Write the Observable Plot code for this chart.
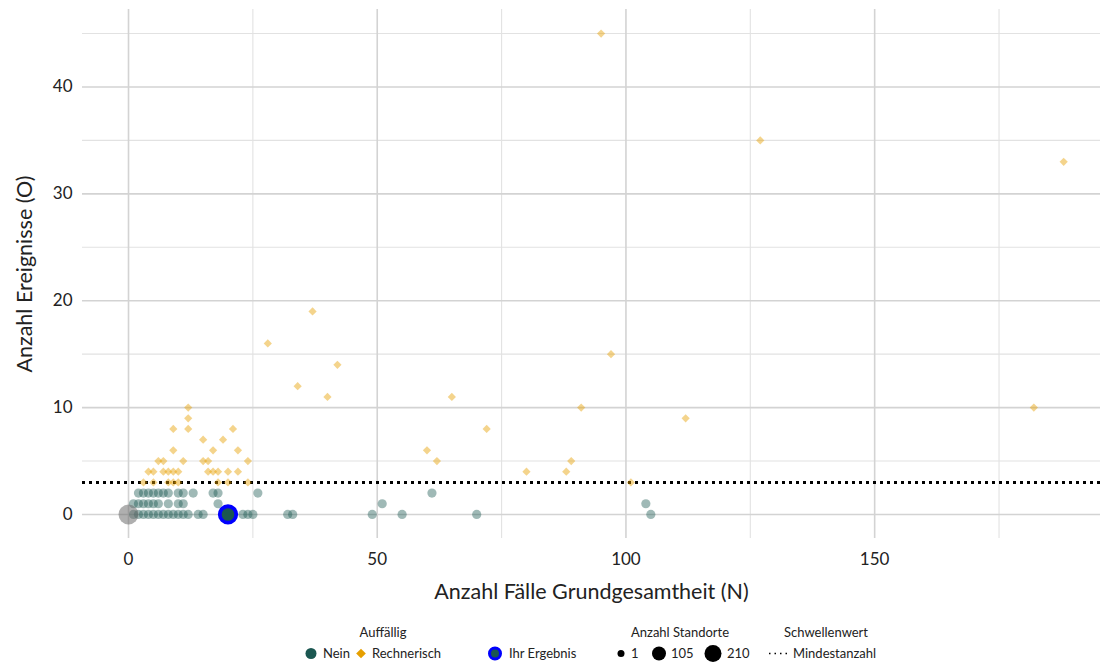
<!DOCTYPE html>
<html>
<head>
<meta charset="utf-8">
<script src="https://cdn.jsdelivr.net/npm/d3@7"></script>
<script src="https://cdn.jsdelivr.net/npm/@observablehq/plot@0.6"></script>
<style>
  html, body { margin: 0; padding: 0; background: #fff; }
  #chart { width: 1104px; }
  #legend { display: block; }
</style>
</head>
<body>
<div id="chart"></div>
<script>
// ---- Data ----
// Auffällig: Nein (N, O)
const neinN = [1,2,3,4,5,6,7,8,9,10,11,12,14,15,23,24,25,32,33,49,55,70,105,
               1,2,3,4,5,6,8,10,11,18,51,104,
               2,3,4,5,6,7,8,10,11,13,17,18,26,61];
const neinO = [0,0,0,0,0,0,0,0,0,0,0,0,0,0,0,0,0,0,0,0,0,0,0,
               1,1,1,1,1,1,1,1,1,1,1,1,
               2,2,2,2,2,2,2,2,2,2,2,2,2,2];
// Auffällig: Rechnerisch (N, O)
const rechN = [3,5,8,9,10,18,20,24,101,
               4,5,7,8,9,10,16,17,18,20,22,80,88,
               6,7,11,15,16,24,62,89,
               9,17,22,60,
               15,19,
               9,12,21,72,
               12,112,
               12,91,182,
               40,65,
               34,42,97,28,37,188,127,95];
const rechO = [3,3,3,3,3,3,3,3,3,
               4,4,4,4,4,4,4,4,4,4,4,4,4,
               5,5,5,5,5,5,5,5,
               6,6,6,6,
               7,7,
               8,8,8,8,
               9,9,
               10,10,10,
               11,11,
               12,14,15,16,19,33,35,45];
// Point without category (grey) and the own result
const greyN = [0], greyO = [0];
const ownN = [20], ownO = [0];
const threshold = [3];

const xMajor = [0, 50, 100, 150];
const xMinor = [25, 75, 125, 175];
const yMajor = [0, 10, 20, 30, 40];
const yMinor = [5, 15, 25, 35, 45];

const xLabel = "Anzahl Fälle Grundgesamtheit (N)";
const yLabel = "Anzahl Ereignisse (O)";

const toRows = (xs, ys) => xs.map((n, i) => ({N: n, O: ys[i]}));
const nein = toRows(neinN, neinO);
const rech = toRows(rechN, rechO);
const grey = toRows(greyN, greyO);
const own = toRows(ownN, ownO);

const TEAL = "#1b5751";
const ORANGE = "#e69f00";

const plot = Plot.plot({
  width: 1104,
  height: 610,
  marginLeft: 82,
  marginRight: 4,
  marginTop: 9,
  marginBottom: 72,
  style: {fontFamily: "Lato, 'Open Sans', sans-serif", background: "#fff", color: "#222"},
  x: {domain: [-9.25, 195.4]},
  y: {domain: [-2.25, 47.25]},
  marks: [
    Plot.ruleX(xMinor, {stroke: "#e2e2e2", strokeWidth: 1.1}),
    Plot.ruleY(yMinor, {stroke: "#e2e2e2", strokeWidth: 1.1}),
    Plot.ruleX(xMajor, {stroke: "#d3d3d3", strokeWidth: 1.6}),
    Plot.ruleY(yMajor, {stroke: "#d3d3d3", strokeWidth: 1.6}),
    Plot.axisX({ticks: xMajor, tickSize: 0, tickPadding: 14, fontSize: 17,
      label: xLabel, labelAnchor: "center", labelArrow: "none", labelOffset: 60}),
    Plot.axisY({ticks: yMajor, tickSize: 0, tickPadding: 10, fontSize: 17,
      label: yLabel, labelAnchor: "center", labelArrow: "none", labelOffset: 66}),
    Plot.ruleY(threshold, {stroke: "#000", strokeWidth: 3, strokeDasharray: "3,4"}),
    Plot.dot(rech, {x: "N", y: "O", symbol: "diamond2", r: 3.7, fill: ORANGE, fillOpacity: 0.45, stroke: "none"}),
    Plot.dot(nein, {x: "N", y: "O", symbol: "circle", r: 4.6, fill: TEAL, fillOpacity: 0.42, stroke: "none"}),
    Plot.dot(grey, {x: "N", y: "O", symbol: "circle", r: 10, fill: "#6e6e6e", fillOpacity: 0.55, stroke: "none"}),
    Plot.dot(own, {x: "N", y: "O", symbol: "circle", r: 8.2, fill: TEAL, stroke: "#0000ff", strokeWidth: 3.8})
  ]
});
document.getElementById("chart").appendChild(plot);

// axis title font sizes
d3.select(plot).selectAll("[aria-label='x-axis label'] text, [aria-label='y-axis label'] text")
  .style("font-size", "21.5px").attr("fill", "#222");

// ---- Legend ----
const legend = d3.select("#chart").append("svg")
  .attr("id", "legend").attr("width", 1104).attr("height", 56)
  .style("font-family", "Lato, 'Open Sans', sans-serif").style("font-size", "13px");

const title = (x, s) => legend.append("text").attr("x", x).attr("y", 27)
  .attr("text-anchor", "middle").attr("fill", "#222").text(s);
const label = (x, s) => legend.append("text").attr("x", x).attr("y", 48)
  .attr("fill", "#222").text(s);
const cy = 43.5;

title(383, "Auffällig");
legend.append("circle").attr("cx", 311).attr("cy", cy).attr("r", 5.5).attr("fill", TEAL);
label(323, "Nein");
legend.append("path").attr("d", d3.symbol(d3.symbolDiamond2, 60)()).attr("transform", `translate(361,${cy})`).attr("fill", ORANGE);
label(372, "Rechnerisch");
legend.append("circle").attr("cx", 495).attr("cy", cy).attr("r", 5.5).attr("fill", TEAL).attr("stroke", "#0000ff").attr("stroke-width", 3);
label(509, "Ihr Ergebnis");

title(680, "Anzahl Standorte");
legend.append("circle").attr("cx", 621).attr("cy", cy).attr("r", 3.5).attr("fill", "#000");
label(631, "1");
legend.append("circle").attr("cx", 659).attr("cy", cy).attr("r", 7).attr("fill", "#000");
label(671, "105");
legend.append("circle").attr("cx", 713).attr("cy", cy).attr("r", 8.5).attr("fill", "#000");
label(727, "210");

title(826, "Schwellenwert");
legend.append("line").attr("x1", 769).attr("x2", 787).attr("y1", cy).attr("y2", cy)
  .attr("stroke", "#000").attr("stroke-width", 1.5).attr("stroke-dasharray", "1.5,4");
label(793, "Mindestanzahl");
</script>
</body>
</html>
